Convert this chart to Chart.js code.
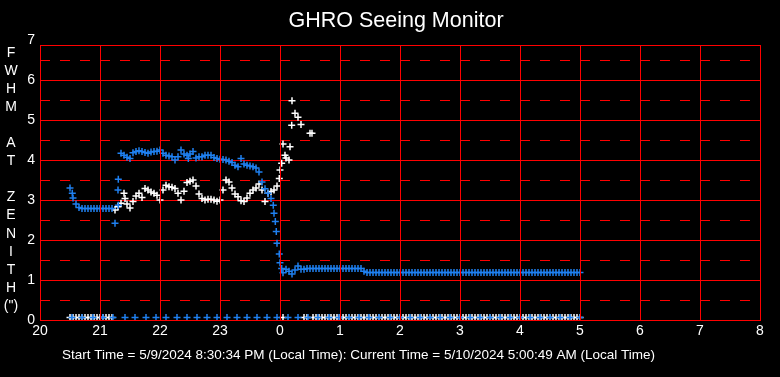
<!DOCTYPE html>
<html lang="en">
  <head>
    <meta charset="UTF-8" />
    <title>GHRO Seeing Monitor</title>
    <script src="https://cdn.jsdelivr.net/npm/chart.js@4.4.1/dist/chart.umd.min.js"></script>
    <style>
      body { margin: 0; background: #000; }
    </style>
  </head>
  <body>
    <canvas id="seeing" width="780" height="377"></canvas>

    <script>
      // samples every 3 minutes, starting 20:30 local time
      var sampleStart = 20.5;
      var sampleStep = 0.05;

      // FWHM (blue), one per sample
      var blueFwhm = [
        3.30, 3.05, 2.90, 2.81, 2.79, 2.79, 2.79, 2.79, 2.79, 2.79, 2.79, 2.79,
        2.79, 2.79, 2.79, 2.42, 3.25,
        4.17, 4.12, 4.07, 4.04, 4.18, 4.21, 4.23, 4.21, 4.19, 4.17,
        4.20, 4.21, 4.22, 4.25, 4.17, 4.12, 4.10, 4.08, 4.00, 4.08,
        4.25, 4.15, 4.12, 4.15, 4.21, 4.05, 4.08, 4.08, 4.12, 4.12,
        4.12, 4.06, 4.04, 4.02, 4.01, 4.00, 3.97, 3.94, 3.87, 3.83,
        4.04, 3.90, 3.87, 3.85, 3.83, 3.80, 3.70, 3.45, 3.28, 3.17,
        3.04, 2.67, 1.92, 1.43, 1.18, 1.27, 1.22, 1.15, 1.25, 1.35, 1.27, 1.27, 1.29,
        1.29, 1.29, 1.29, 1.29, 1.29, 1.29, 1.29, 1.29, 1.29, 1.29, 1.29, 1.29,
        1.29, 1.29, 1.29, 1.29, 1.29, 1.29,
        1.22,
        1.19, 1.19, 1.19, 1.19, 1.19, 1.19, 1.19, 1.19, 1.19, 1.19, 1.19, 1.19,
        1.19, 1.19, 1.19, 1.19, 1.19, 1.19, 1.19, 1.19, 1.19, 1.19, 1.19, 1.19,
        1.19, 1.19, 1.19, 1.19, 1.19, 1.19, 1.19, 1.19, 1.19, 1.19, 1.19, 1.19,
        1.19, 1.19, 1.19, 1.19, 1.19, 1.19, 1.19, 1.19, 1.19, 1.19, 1.19, 1.19,
        1.19, 1.19, 1.19, 1.19, 1.19, 1.19, 1.19, 1.19, 1.19, 1.19, 1.19, 1.19,
        1.19, 1.19, 1.19, 1.19, 1.19, 1.19, 1.19, 1.19, 1.19, 1.19, 1.19, 1.19
      ];

      // second measurement (white); the row near 0 means no reading
      var whiteFwhm = [
        0.06, 0.06, 0.06, 0.06, 0.06, 0.06, 0.06, 0.06, 0.06, 0.06, 0.06, 0.06,
        0.06, 0.06, 0.06,
        2.75, 2.83, 2.92, 3.17, 2.90, 2.80, 2.96, 3.10, 3.17, 3.06,
        3.29, 3.25, 3.20, 3.17, 3.12, 3.00, 3.25, 3.37, 3.33, 3.32,
        3.29, 3.17, 3.00, 3.22, 3.44, 3.47, 3.50, 3.35, 3.15, 3.04,
        3.00, 3.02, 3.02, 3.00, 2.97, 3.00, 3.25, 3.50, 3.45, 3.30,
        3.15, 3.08, 2.98, 2.96, 3.05, 3.17, 3.25, 3.30, 3.40, 3.25,
        2.96, 3.17, 3.21, 3.25, 3.35, 3.75, 4.40, 4.05, 4.00, 5.48,
        5.17, 5.07, 4.89,
        0.06, 0.06, 4.67,
        0.06, 0.06, 0.06, 0.06, 0.06, 0.06, 0.06, 0.06, 0.06, 0.06, 0.06, 0.06,
        0.06, 0.06, 0.06, 0.06, 0.06, 0.06, 0.06, 0.06, 0.06, 0.06, 0.06, 0.06,
        0.06, 0.06, 0.06, 0.06, 0.06, 0.06, 0.06, 0.06, 0.06, 0.06, 0.06, 0.06,
        0.06, 0.06, 0.06, 0.06, 0.06, 0.06, 0.06, 0.06, 0.06, 0.06, 0.06, 0.06,
        0.06, 0.06, 0.06, 0.06, 0.06, 0.06, 0.06, 0.06, 0.06, 0.06, 0.06, 0.06,
        0.06, 0.06, 0.06, 0.06, 0.06, 0.06, 0.06, 0.06, 0.06, 0.06, 0.06, 0.06,
        0.06, 0.06, 0.06, 0.06, 0.06, 0.06, 0.06, 0.06, 0.06, 0.06, 0.06, 0.06,
        0.06, 0.06, 0.06, 0.06, 0.06, 0.06
      ];

      // extra readings between the 3 minute samples [hour, value]
      var blueExtra = [
        [20.538, 3.17], [21.305, 2.87], [21.305, 3.52], [22.472, 4.04],
        [23.888, 2.87], [23.922, 2.46], [23.938, 2.21], [23.988, 1.65], [24.028, 1.29]
      ];
      var whiteExtra = [
        [21.417, 3.04], [23.988, 3.54], [24.028, 3.92], [24.083, 4.12],
        [24.167, 4.33], [24.195, 4.87], [24.533, 4.67], [24.05, 0.06]
      ];

      // blue markers along the bottom row
      var blueZeroTimes = [
        "20:32", "20:42", "20:53", "21:03", "21:13", "21:25", "21:35", "21:46", "21:56",
        "22:06", "22:17", "22:27", "22:37", "22:47", "22:57", "23:07", "23:17", "23:27",
        "23:37", "23:47", "23:57", "00:08", "00:18", "00:28", "00:38", "00:49", "00:59",
        "01:09", "01:19", "01:29", "01:39", "01:50", "02:00", "02:10", "02:20", "02:30",
        "02:40", "02:50", "03:00", "03:10", "03:20", "03:30", "03:40", "03:50", "04:00",
        "04:10", "04:20", "04:30", "04:40", "04:50", "05:00"
      ];
      var blueZeroValue = 0.06;

      var yLabelLetters = ["F", "W", "H", "M", "", "A", "T", "", "Z", "E", "N", "I", "T", "H", "(\")"];
      var yTickValues = [0, 1, 2, 3, 4, 5, 6, 6.875, 7];
      var yHalfValues = [0.5, 1.5, 2.5, 3.5, 4.5, 5.5, 6.5];

      var titleText = "GHRO Seeing Monitor";
      var footerText = "Start Time = 5/9/2024 8:30:34 PM (Local Time): Current Time = 5/10/2024 5:00:49 AM (Local Time)";

      function hourOf(t) {
        var p = t.split(":");
        var h = parseInt(p[0]) + parseInt(p[1]) / 60;
        if (h < 12) h += 24;
        return h;
      }

      function toPoints(values, extra) {
        var pts = [];
        values.forEach(function (v, i) {
          if (v !== null) pts.push({ x: sampleStart + i * sampleStep, y: v });
        });
        extra.forEach(function (e) {
          pts.push({ x: e[0], y: e[1] });
        });
        return pts;
      }

      // tiny nudge so grid lines land on whole pixel rows
      function gridTicks(values) {
        return values.map(function (v) { return { value: v - 1e-7 }; });
      }

      var font = "'Liberation Sans', Arial, sans-serif";
      var red = "#ff0000";
      var blue = "#1f80f0";

      // title, stacked axis caption on the left and the start/current time line
      var textLayer = {
        id: "textLayer",
        afterDraw: function (chart) {
          var ctx = chart.ctx;
          ctx.save();
          ctx.fillStyle = "#ffffff";
          ctx.textBaseline = "middle";
          ctx.textAlign = "center";
          ctx.font = "21.5px " + font;
          ctx.fillText(titleText, 396, 21);
          ctx.font = "14px " + font;
          yLabelLetters.forEach(function (c, i) {
            ctx.fillText(c, 11, 53 + i * 18.07);
          });
          ctx.font = "13.5px " + font;
          ctx.textAlign = "left";
          ctx.fillText(footerText, 62, 355);
          ctx.restore();
        },
      };

      var marker = { pointStyle: "cross", pointRadius: 3.5, borderWidth: 1.5 };

      var config = {
        type: "scatter",
        data: {
          datasets: [
            Object.assign({
              label: "blue zero",
              data: blueZeroTimes.map(function (t) { return { x: hourOf(t), y: blueZeroValue }; }),
              borderColor: blue,
              backgroundColor: blue,
              order: 0,
            }, marker),
            Object.assign({
              label: "FWHM",
              data: toPoints(blueFwhm, blueExtra),
              borderColor: blue,
              backgroundColor: blue,
              order: 1,
            }, marker),
            Object.assign({
              label: "white",
              data: toPoints(whiteFwhm, whiteExtra),
              borderColor: "#ffffff",
              backgroundColor: "#ffffff",
              order: 2,
            }, marker),
          ],
        },
        options: {
          responsive: false,
          animation: false,
          events: [],
          layout: { padding: { left: 0, right: 20, top: 45, bottom: 0 } },
          plugins: {
            legend: { display: false },
            tooltip: { enabled: false },
            title: { display: false },
          },
          scales: {
            x: {
              type: "linear",
              min: 20,
              max: 32,
              afterFit: function (s) { s.height = 57; },
              ticks: {
                stepSize: 1,
                autoSkip: false,
                maxRotation: 0,
                padding: 3,
                color: "#ffffff",
                font: { family: font, size: 14 },
                callback: function (v) { return v % 24; },
              },
              grid: { color: red, drawTicks: false, z: 1 },
              border: { color: red, z: 1 },
            },
            y: {
              min: 0,
              max: 6.875,
              afterFit: function (s) { s.width = 40; },
              afterBuildTicks: function (s) { s.ticks = gridTicks(yTickValues); },
              ticks: {
                autoSkip: false,
                padding: 5,
                color: "#ffffff",
                font: { family: font, size: 14 },
                callback: function (v) {
                  var r = Math.round(v * 1000) / 1000;
                  return r === 6.875 ? "" : r;
                },
              },
              grid: {
                drawTicks: false,
                color: function (c) {
                  return c.tick && c.tick.value > 6.9 ? "rgba(0,0,0,0)" : red;
                },
              },
              border: { color: red },
            },
            y2: {
              position: "left",
              min: 0,
              max: 6.875,
              afterFit: function (s) { s.width = 0; },
              afterBuildTicks: function (s) { s.ticks = gridTicks(yHalfValues); },
              ticks: { display: false },
              grid: { drawTicks: false, color: red },
              border: { display: false, dash: [10, 10] },
            },
          },
        },
        plugins: [textLayer],
      };

      new Chart(document.getElementById("seeing"), config);
    </script>
  </body>
</html>
